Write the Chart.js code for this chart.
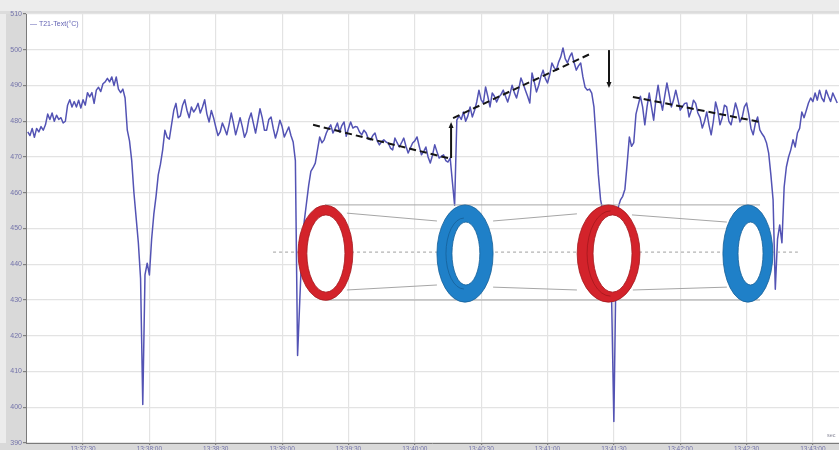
<!DOCTYPE html>
<html><head><meta charset="utf-8">
<script src="https://cdn.jsdelivr.net/npm/chart.js@4/dist/chart.umd.min.js"></script>
<style>html,body{margin:0;padding:0;background:#ebebeb;overflow:hidden}canvas{display:block}</style>
</head><body>
<canvas id="c" width="839" height="450"></canvas>
<script>
// ---------- data ----------
const seriesLabel = 'T21-Text(°C)';
const firstSecond = 5;            // seconds after 13:37:00; one sample per second
const temps = [
  477, 476, 478, 475.5, 478, 477, 478.5, 477.5, 479, 482,            // 5
  480.5, 482.3, 480, 481.7, 480.5, 481, 479.5, 480, 484.5, 486,      // 15
  484, 485.5, 484, 485.9, 483.7, 486, 484.5, 488, 486.8, 488,        // 25
  485, 488.7, 489.5, 488.3, 490.5, 491, 492, 491, 492.4, 490,        // 35
  492.4, 489, 488, 489, 486.5, 477.5, 474.5, 469, 460, 453,          // 45
  446, 436, 400.8, 437, 440.3, 437, 447, 454, 459, 465,              // 55
  468, 472, 477.5, 475.5, 475, 479, 483, 485, 481, 481.5,            // 65
  484.5, 486, 483, 481, 484, 482.6, 483.5, 485, 482.3, 484,          // 75
  486, 482, 479.8, 483, 481, 478.4, 476, 477, 479.5, 478,            // 85
  476.2, 479, 482.3, 479.5, 476.2, 478.5, 481, 478.5, 475.5, 477,    // 95
  480.5, 482.3, 479.5, 476.7, 480, 483.5, 481, 477.5, 477.5, 480.5,  // 105
  481.2, 478, 475.3, 477.5, 480.3, 478.5, 475.6, 477, 478.4, 476,    // 115
  474.2, 469, 414.5, 430, 445, 452, 457, 462, 466, 467,              // 125
  468.3, 472, 475.6, 474, 474.8, 476.7, 478, 479, 476.7, 478,        // 135
  479.5, 477, 478.8, 479.8, 475.8, 478, 479.8, 478.1, 478.5, 478.4,  // 145
  477, 476.2, 477.5, 476.7, 475, 474.8, 476, 476.7, 474.5, 473.4,    // 155
  474.3, 474.8, 474.2, 473.9, 472.5, 472, 475.3, 474, 472.8, 474,    // 165
  475.3, 473, 471.1, 472.5, 473.9, 474.5, 475.6, 473, 470.6, 471.5,  // 175
  472.8, 470, 468.3, 470.5, 473.4, 471.5, 469.7, 470.2, 470.6, 469,  // 185
  468.6, 469.7, 463, 456.5, 480.3, 481.5, 480.5, 482.6, 480, 481.5,  // 195
  484, 481.2, 483, 485.4, 488.7, 486, 485.1, 489.6, 487, 484,        // 205
  487.9, 487, 485.4, 486.8, 487.5, 488.7, 487, 485.4, 487.5, 490.1,  // 215
  488, 486.5, 489, 492.1, 490.5, 488.7, 487, 485.1, 493.5, 491,      // 225
  488.2, 490, 492.5, 494.3, 492, 490.7, 493, 496.3, 495, 494.3,      // 235
  496.5, 498, 500.5, 497.5, 496.3, 498, 499.1, 496.5, 494.3, 495.5,  // 245
  496.3, 492.4, 489.5, 488.7, 489, 487.9, 484, 474.8, 465, 458,      // 255
  455, 452, 448, 443, 430, 396, 440, 456, 458, 459,                  // 265
  461, 468, 475.6, 473, 474, 482, 484.5, 487, 484, 479,              // 275
  484, 487.9, 484, 480.3, 486, 490.1, 486, 483.1, 487, 490.7,        // 285
  487.5, 484, 486, 488.7, 486, 483.1, 484, 485, 485.1, 481.2,        // 295
  483, 485.9, 485, 482.3, 481, 478.1, 480, 482.6, 479, 476.2,        // 305
  480, 485.4, 483, 479, 481, 484.5, 484, 480, 479, 482,              // 315
  485.1, 483, 479.8, 481, 484, 485.1, 482, 478, 476.2, 479.5,        // 325
  481.2, 477.6, 476.5, 475.6, 474, 471.1, 465, 458, 433, 447,        // 335
  451, 446, 461.6, 467.2, 470, 472, 474.8, 472.8, 476.7, 478,        // 345
  482.6, 481, 483, 485.1, 486.5, 485.5, 487.9, 485.9, 488.7, 486.5,  // 355
  485.5, 488.7, 487, 485.5, 487.9, 486.5, 485.1                      // 365
];
const tickSeconds = [30, 60, 90, 120, 150, 180, 210, 240, 270, 300, 330, 360];
const tickLabels = ['13:37:30','13:38:00','13:38:30','13:39:00','13:39:30','13:40:00',
                    '13:40:30','13:41:00','13:41:30','13:42:00','13:42:30','13:43:00'];
const yMin = 390, yMax = 510, yStep = 10;
const xMin = 4.2, xMax = 371.8;

// annotation overlay, in (seconds, °C)
const trendLines = [
  [134.0, 479.0, 195.0, 469.7],
  [197.3, 480.9, 259.2, 498.8],
  [278.6, 486.8, 336.1, 479.8]
];
const arrows = [
  [196.4, 469.7, 479.8],
  [267.8, 499.9, 489.3]
];
const guideLines = [
  [139.4, 456.6, 336.1, 456.6],
  [139.4, 430.0, 336.1, 430.0],
  [149.3, 454.3, 190.0, 452.1], [215.4, 452.1, 253.3, 454.1], [278.2, 453.8, 321.1, 451.8],
  [149.3, 432.8, 190.0, 434.2], [215.4, 433.6, 253.3, 432.8], [278.6, 432.8, 321.1, 433.6]
];
const centreLine = [115.9, 353.2, 443.4];
const rings = [
  {t:139.6, v:443.2, rt:12.4, rv:13.3, it:139.8, iv:443.0, irt:8.6, irv:10.8, kind:'red', depth:false},
  {t:202.7, v:443.0, rt:12.7, rv:13.6, it:203.1, iv:443.0, irt:6.3, irv:8.8, kind:'blue', depth:true},
  {t:267.6, v:443.0, rt:14.2, rv:13.6, it:269.4, iv:443.0, irt:8.8, irv:10.8, kind:'red', depth:true},
  {t:330.6, v:443.0, rt:11.3, rv:13.6, it:331.8, iv:443.0, irt:5.65, irv:8.8, kind:'blue', depth:false}
];
const ringColors = {red:['#d3232b','#a3161c'], blue:['#1f80c8','#155f98']};

// ---------- plugins ----------
const background = {
  id:'background',
  beforeDraw(chart){
    const {ctx, chartArea:a, width, height} = chart;
    ctx.save();
    ctx.fillStyle = '#ececec'; ctx.fillRect(0,0,width,height);
    ctx.fillStyle = '#d9d9d9'; ctx.fillRect(6, a.top-1, a.left-6, height-a.top+1);
    ctx.fillRect(0, a.bottom, width, height-a.bottom);
    ctx.fillStyle = '#dcdcdc'; ctx.fillRect(0, a.top-3, width, 3);
    ctx.fillStyle = '#ffffff'; ctx.fillRect(a.left, a.top, a.right-a.left, a.bottom-a.top);
    ctx.restore();
  }
};
const overlay = {
  id:'overlay',
  afterDatasetsDraw(chart){
    const {ctx, chartArea:a, scales:{x, y}} = chart;
    const X = t => x.getPixelForValue(t), Y = v => y.getPixelForValue(v);
    ctx.save();
    ctx.beginPath(); ctx.rect(a.left, a.top, a.right-a.left, a.bottom-a.top); ctx.clip();
    // guide lines
    ctx.strokeStyle = '#a6a6a6'; ctx.lineWidth = 1;
    guideLines.forEach(g => { ctx.beginPath(); ctx.moveTo(X(g[0]),Y(g[1])); ctx.lineTo(X(g[2]),Y(g[3])); ctx.stroke(); });
    ctx.setLineDash([3,3]); ctx.strokeStyle = '#a0a0a0';
    ctx.beginPath(); ctx.moveTo(X(centreLine[0]),Y(centreLine[2])); ctx.lineTo(X(centreLine[1]),Y(centreLine[2])); ctx.stroke();
    ctx.setLineDash([]);
    // rings
    rings.forEach(r => {
      const [c, d] = ringColors[r.kind];
      const cx = X(r.t), cy = Y(r.v), rx = X(r.t+r.rt)-cx, ry = cy-Y(r.v+r.rv);
      const ix = X(r.it), iy = Y(r.iv), irx = X(r.it+r.irt)-ix, iry = iy-Y(r.iv+r.irv);
      ctx.beginPath(); ctx.ellipse(cx, cy, rx, ry, 0, 0, Math.PI*2);
      ctx.fillStyle = c; ctx.fill();
      ctx.strokeStyle = d; ctx.lineWidth = 0.8; ctx.stroke();
      if (r.depth) {
        ctx.beginPath(); ctx.ellipse(ix - 2, iy, irx + 4, iry + 4, 0, Math.PI*0.5, Math.PI*1.5);
        ctx.strokeStyle = d; ctx.lineWidth = 0.8; ctx.stroke();
      }
      ctx.beginPath(); ctx.ellipse(ix, iy, irx, iry, 0, 0, Math.PI*2);
      ctx.fillStyle = '#ffffff'; ctx.fill();
      ctx.strokeStyle = d; ctx.lineWidth = 0.8; ctx.stroke();
    });
    // trend lines
    ctx.strokeStyle = '#151515'; ctx.lineWidth = 2; ctx.setLineDash([7,4]);
    trendLines.forEach(l => { ctx.beginPath(); ctx.moveTo(X(l[0]),Y(l[1])); ctx.lineTo(X(l[2]),Y(l[3])); ctx.stroke(); });
    ctx.setLineDash([]);
    // arrows
    ctx.fillStyle = '#151515';
    arrows.forEach(ar => {
      const px = X(ar[0]), y0 = Y(ar[1]), y1 = Y(ar[2]);
      const dir = y1 < y0 ? -1 : 1;
      ctx.beginPath(); ctx.moveTo(px, y0); ctx.lineTo(px, y1 - dir*4); ctx.stroke();
      ctx.beginPath(); ctx.moveTo(px, y1); ctx.lineTo(px-2.5, y1 - dir*6); ctx.lineTo(px+2.5, y1 - dir*6); ctx.closePath(); ctx.fill();
    });
    ctx.restore();
  },
  afterDraw(chart){
    const {ctx, chartArea:a} = chart;
    ctx.save();
    ctx.font = '7px "Liberation Sans", Arial, sans-serif';
    ctx.fillStyle = '#6464b4'; ctx.textBaseline = 'middle';
    ctx.fillText('— ' + seriesLabel, a.left + 4, a.top + 10);
    ctx.fillStyle = '#8a8a9a'; ctx.font = '5.5px "Liberation Sans", Arial, sans-serif';
    ctx.fillText('sec', a.right - 12, a.bottom - 8);
    ctx.restore();
  }
};

// ---------- chart ----------
const points = temps.map((v, i) => ({x: firstSecond + i, y: v}));
new Chart(document.getElementById('c'), {
  type: 'line',
  data: { datasets: [{
    label: seriesLabel, data: points,
    borderColor: '#5353b4', borderWidth: 1.5, pointRadius: 0, tension: 0, fill: false,
    borderJoinStyle: 'round'
  }]},
  options: {
    responsive: false, animation: false, devicePixelRatio: 1,
    layout: { padding: { top: 14, left: 0, right: 0, bottom: 0 } },
    plugins: { legend: { display: false }, tooltip: { enabled: false } },
    scales: {
      x: {
        type: 'linear', min: xMin, max: xMax,
        afterBuildTicks: s => { s.ticks = tickSeconds.map(v => ({value: v})); },
        afterFit: s => { s.height = 7; },
        ticks: {
          callback: (v) => tickLabels[tickSeconds.indexOf(v)] ?? '',
          font: { size: 6.5, family: '"Liberation Sans", Arial, sans-serif' },
          color: '#7373aa', padding: 0, maxRotation: 0, autoSkip: false
        },
        grid: { color: '#e3e3e3', lineWidth: 1.2, tickColor: '#808080', tickLength: 2 },
        border: { color: '#7a7a7a', width: 1 }
      },
      y: {
        min: yMin, max: yMax,
        afterFit: s => { s.width = 26; },
        ticks: {
          stepSize: yStep,
          font: { size: 7, family: '"Liberation Sans", Arial, sans-serif' },
          color: '#7373aa', padding: 1
        },
        grid: { color: '#e3e3e3', lineWidth: 1.2, tickColor: '#808080', tickLength: 3 },
        border: { color: '#7a7a7a', width: 1 }
      }
    }
  },
  plugins: [background, overlay]
});
</script>
</body></html>
